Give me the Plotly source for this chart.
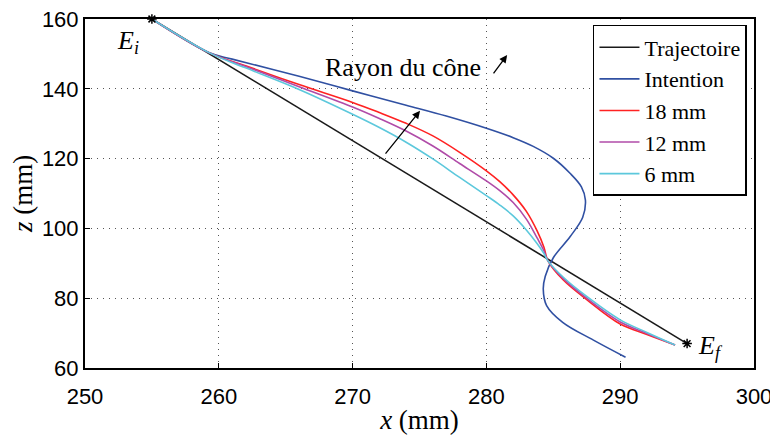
import plotly.graph_objects as go

# trajectoire directe Ei -> Ef
traj_x = [255, 295]
traj_z = [160, 67]

# intention
int_x = [255, 259.3, 261, 266, 270, 274, 277, 280, 282, 283.5, 285, 286.25, 287.1, 287.4,
         287.2, 286.25, 285.0, 284.4, 284.25, 284.5, 285.7, 288.0, 290.4]
int_z = [160, 150.3, 148.5, 143.6, 139.4, 135.3, 132.2, 128.7, 126.0, 123.5, 120.1, 115.8, 111.9, 108.1,
         103.2, 97.6, 91.6, 86.3, 82.6, 77.9, 73.1, 68.0, 63.1]

# rayons du cone
cone_x = [255, 259.3, 262, 266, 270, 272, 274, 276, 278, 280, 281, 282, 283, 283.8, 284.3, 284.6,
          285.75, 287.5, 290, 292, 294.1]
r18_z = [160, 150.3, 146.6, 141.2, 136.1, 133.2, 130.1, 126.5, 121.8, 116.5, 113.4, 109.6, 104.8, 99.2, 94.6, 90.7,
         85.2, 79.6, 72.6, 69.6, 66.6]
r12_z = [160, 150.3, 146.4, 140.6, 134.8, 131.5, 127.9, 123.6, 118.6, 113.6, 110.8, 107.4, 102.6, 97.2, 93.6, 90.7,
         85.6, 80.0, 73.2, 69.9, 66.6]
r6_z = [160, 150.3, 146.0, 139.8, 132.7, 128.9, 124.7, 119.9, 114.6, 109.4, 106.7, 103.6, 99.5, 95.6, 92.8, 90.7,
        86.0, 80.5, 73.8, 70.2, 66.6]

ends_x = [255, 295]
ends_z = [160, 67]

serif = "Liberation Serif, Times New Roman, serif"
sans = "Liberation Sans, Arial, sans-serif"

fig = go.Figure()
fig.add_trace(go.Scatter(x=traj_x, y=traj_z, mode="lines", name="Trajectoire",
                         line=dict(color="#1a1a1a", width=1.6)))
fig.add_trace(go.Scatter(x=int_x, y=int_z, mode="lines", name="Intention",
                         line=dict(color="#3050a2", width=1.6, shape="spline", smoothing=1.0)))
fig.add_trace(go.Scatter(x=cone_x, y=r18_z, mode="lines", name="18 mm",
                         line=dict(color="#ff2222", width=1.6, shape="spline", smoothing=1.0)))
fig.add_trace(go.Scatter(x=cone_x, y=r12_z, mode="lines", name="12 mm",
                         line=dict(color="#b04ba8", width=1.6, shape="spline", smoothing=1.0)))
fig.add_trace(go.Scatter(x=cone_x, y=r6_z, mode="lines", name="6 mm",
                         line=dict(color="#5cc8dc", width=1.6, shape="spline", smoothing=1.0)))
fig.add_trace(go.Scatter(x=ends_x, y=ends_z, mode="markers", showlegend=False, cliponaxis=False,
                         marker=dict(symbol="asterisk-open", size=8, color="black",
                                     line=dict(color="black", width=1.5))))

fig.add_annotation(x=253.2, y=153.3, text="<i>E<sub>i</sub></i>", showarrow=False,
                   font=dict(family=serif, size=26, color="black"))
fig.add_annotation(x=295.7, y=66.0, text="<i>E<sub>f</sub></i>", showarrow=False, xanchor="left",
                   font=dict(family=serif, size=26, color="black"))
fig.add_annotation(x=273.8, y=146.0, text="Rayon du cône", showarrow=False,
                   font=dict(family=serif, size=26, color="black"))
fig.add_annotation(x=275.04, y=133.7, ax=272.37, ay=121.0, axref="x", ayref="y",
                   showarrow=True, arrowhead=2, arrowsize=1.2, arrowwidth=1.3, arrowcolor="black", text="")
fig.add_annotation(x=281.55, y=149.7, ax=280.45, ay=144.0, axref="x", ayref="y",
                   showarrow=True, arrowhead=2, arrowsize=1.2, arrowwidth=1.3, arrowcolor="black", text="")

axis_common = dict(showline=True, linecolor="black", linewidth=2, mirror=True,
                   ticks="inside", ticklen=5, tickcolor="black", tickwidth=1,
                   showgrid=True, gridcolor="#555555", gridwidth=1, griddash="1px,5px",
                   zeroline=False, automargin=False, ticklabeloverflow="allow",
                   tickfont=dict(family=sans, size=22, color="black"))

fig.update_xaxes(range=[250, 300], tickvals=[250, 260, 270, 280, 290, 300], ticklabelstandoff=8,
                 title=dict(text="<i>x</i> (mm)", font=dict(family=serif, size=27, color="black"), standoff=2),
                 **axis_common)
fig.update_yaxes(range=[60, 160], tickvals=[60, 80, 100, 120, 140, 160],
                 title=dict(text="<i>z</i> (mm)", font=dict(family=serif, size=27, color="black"), standoff=4),
                 **axis_common)

# la page ajoute une marge de 8 px autour de la figure
fig.update_layout(
    width=770, height=433,
    margin=dict(l=77, r=24, t=11, b=73),
    paper_bgcolor="white", plot_bgcolor="white",
    legend=dict(x=0.9895, y=0.983, xanchor="right", yanchor="top",
                bgcolor="white", bordercolor="black", borderwidth=1.5,
                font=dict(family=serif, size=22, color="black"),
                tracegroupgap=0, itemwidth=40),
)

fig.write_html("out.html")
